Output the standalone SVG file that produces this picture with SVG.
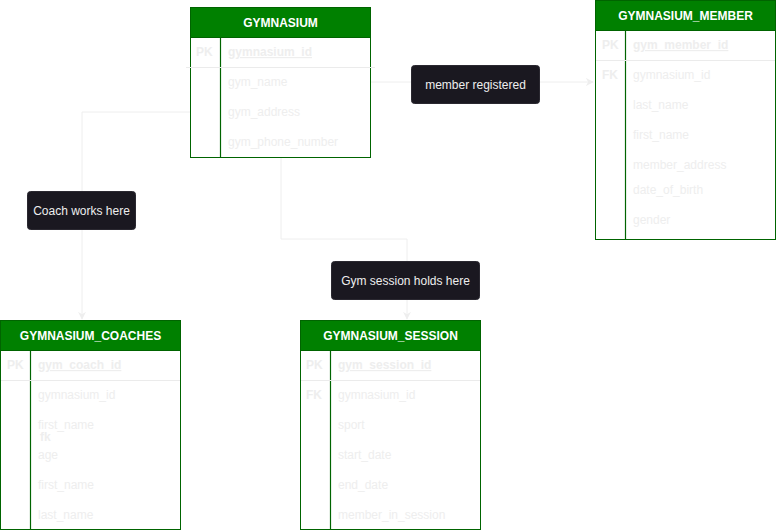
<svg xmlns="http://www.w3.org/2000/svg" width="776" height="531" viewBox="0 0 776 531">
<style>
.box{fill:#ffffff;stroke:#006400;stroke-width:1}
.hdr{fill:#008000;stroke:#006400;stroke-width:1}
.col{stroke:#006400;stroke-width:1.2}
.sep{stroke:#ebebeb;stroke-width:1}
.title{font-family:"Liberation Sans",Arial,sans-serif;font-size:12px;font-weight:bold;fill:#ffffff;text-anchor:middle}
.key{font-family:"Liberation Sans",Arial,sans-serif;font-size:12px;font-weight:bold;fill:#eeeeee}
.attr{font-family:"Liberation Sans",Arial,sans-serif;font-size:12px;fill:#eeeeee}
.pk{font-family:"Liberation Sans",Arial,sans-serif;font-size:12px;font-weight:bold;fill:#eeeeee;text-decoration:underline}
.conn{fill:none;stroke:#eeeeee;stroke-width:1}
.lbl{fill:#1a1820;stroke:#2a2830;stroke-width:1}
.lt{font-family:"Liberation Sans",Arial,sans-serif;font-size:12px;fill:#eeeeee;text-anchor:middle}
</style>
<defs>
<marker id="arr" viewBox="0 0 10 10" refX="9" refY="5" markerWidth="8" markerHeight="8" orient="auto" markerUnits="userSpaceOnUse">
<path d="M0,0 L10,5 L0,10 L3,5 Z" fill="#eeeeee"/>
</marker>
</defs>

<g id="connectors">
<path class="conn" d="M371,82 L593,82" marker-end="url(#arr)"/>
<path class="conn" d="M190,112 L82,112 L82,319" marker-end="url(#arr)"/>
<path class="conn" d="M281,158 L281,239 L407,239 L407,319" marker-end="url(#arr)"/>
</g>

<g id="gymnasium">
<rect class="box" x="190.5" y="7.5" width="180" height="150"/>
<rect class="hdr" x="190.5" y="7.5" width="180" height="30"/>
<text class="title" x="280.5" y="26.5">GYMNASIUM</text>
<line class="col" x1="220.5" y1="37.5" x2="220.5" y2="157.5"/>
<line class="sep" x1="186" y1="67.5" x2="375" y2="67.5"/>
<text class="key" x="196" y="56">PK</text>
<text class="pk" x="228" y="56">gymnasium_id</text>
<text class="attr" x="228" y="86">gym_name</text>
<text class="attr" x="228" y="116">gym_address</text>
<text class="attr" x="228" y="146">gym_phone_number</text>
</g>

<g id="gymnasium_member">
<rect class="box" x="595.5" y="0.5" width="180" height="239"/>
<rect class="hdr" x="595.5" y="0.5" width="180" height="30"/>
<text class="title" x="685.5" y="19.5">GYMNASIUM_MEMBER</text>
<line class="col" x1="625.5" y1="30.5" x2="625.5" y2="239.5"/>
<line class="sep" x1="596" y1="60.5" x2="775" y2="60.5"/>
<text class="key" x="602" y="49">PK</text>
<text class="pk" x="633" y="49">gym_member_id</text>
<text class="key" x="602" y="79">FK</text>
<text class="attr" x="633" y="79">gymnasium_id</text>
<text class="attr" x="633" y="109">last_name</text>
<text class="attr" x="633" y="139">first_name</text>
<text class="attr" x="633" y="169">member_address</text>
<text class="attr" x="633" y="194">date_of_birth</text>
<text class="attr" x="633" y="224">gender</text>
</g>

<g id="gymnasium_coaches">
<rect class="box" x="0.5" y="320.5" width="180" height="209"/>
<rect class="hdr" x="0.5" y="320.5" width="180" height="30"/>
<text class="title" x="90.5" y="339.5">GYMNASIUM_COACHES</text>
<line class="col" x1="30.5" y1="350.5" x2="30.5" y2="529.5"/>
<line class="sep" x1="1" y1="380.5" x2="180" y2="380.5"/>
<text class="key" x="7" y="369">PK</text>
<text class="pk" x="38" y="369">gym_coach_id</text>
<text class="attr" x="38" y="399">gymnasium_id</text>
<text class="attr" x="38" y="428.5">first_name</text>
<text class="key" x="40" y="441">fk</text>
<text class="attr" x="38" y="459">age</text>
<text class="attr" x="38" y="489">first_name</text>
<text class="attr" x="38" y="519">last_name</text>
</g>

<g id="gymnasium_session">
<rect class="box" x="300.5" y="320.5" width="180" height="209"/>
<rect class="hdr" x="300.5" y="320.5" width="180" height="30"/>
<text class="title" x="390.5" y="339.5">GYMNASIUM_SESSION</text>
<line class="col" x1="330.5" y1="350.5" x2="330.5" y2="529.5"/>
<line class="sep" x1="301" y1="380.5" x2="480" y2="380.5"/>
<text class="key" x="306" y="369">PK</text>
<text class="pk" x="338" y="369">gym_session_id</text>
<text class="key" x="306" y="399">FK</text>
<text class="attr" x="338" y="399">gymnasium_id</text>
<text class="attr" x="338" y="429">sport</text>
<text class="attr" x="338" y="459">start_date</text>
<text class="attr" x="338" y="489">end_date</text>
<text class="attr" x="338" y="519">member_in_session</text>
</g>

<g id="label_member_registered">
<rect class="lbl" x="411.5" y="65.5" width="128" height="38" rx="3"/>
<text class="lt" x="475.5" y="88.5">member registered</text>
</g>
<g id="label_coach_works_here">
<rect class="lbl" x="27.5" y="191.5" width="108" height="38" rx="3"/>
<text class="lt" x="81.5" y="214.5">Coach works here</text>
</g>
<g id="label_gym_session_holds_here">
<rect class="lbl" x="331.5" y="261.5" width="148" height="38" rx="3"/>
<text class="lt" x="405.5" y="284.5">Gym session holds here</text>
</g>
</svg>
